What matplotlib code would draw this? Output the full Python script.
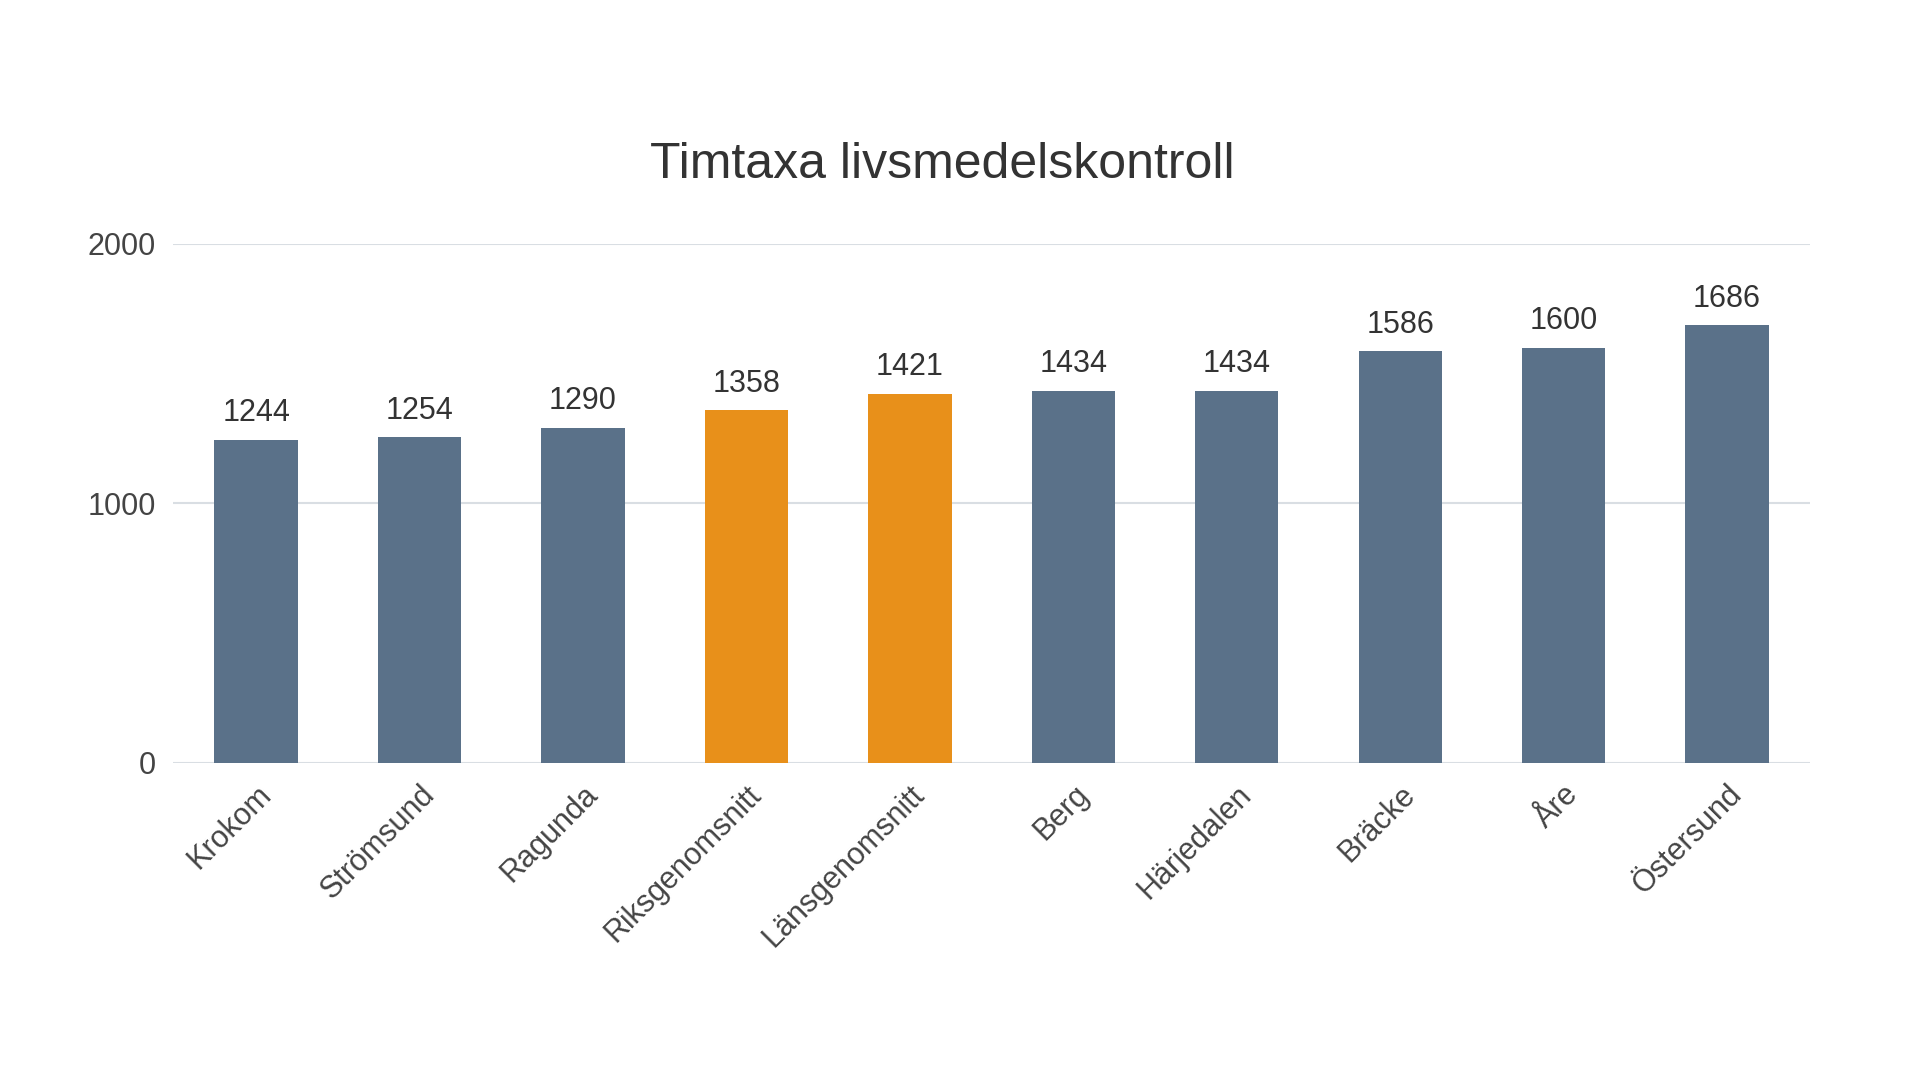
import matplotlib
matplotlib.use("Agg")
import matplotlib.pyplot as plt

categories = ["Krokom", "Strömsund", "Ragunda", "Riksgenomsnitt", "Länsgenomsnitt",
              "Berg", "Härjedalen", "Bräcke", "Åre", "Östersund"]
values = [1244, 1254, 1290, 1358, 1421, 1434, 1434, 1586, 1600, 1686]
highlight = ["Riksgenomsnitt", "Länsgenomsnitt"]
yticks = [0, 1000, 2000]

plt.rcParams['font.family'] = ['Liberation Sans', 'DejaVu Sans']
fig = plt.figure(figsize=(19.2, 10.79), dpi=100)
ax = fig.add_axes([0.09, 0.293, 0.8525, 0.481])
colors = ["#E8901A" if c in highlight else "#5A7189" for c in categories]
x = range(len(categories))
ax.bar(x, values, width=0.51, color=colors, zorder=3)
for xi, v in zip(x, values):
    ax.text(xi, v + 45, str(v), ha="center", va="bottom", fontsize=22, color="#333333")
ax.set_xlim(-0.51, len(categories) - 0.495)
ax.set_ylim(0, 2000)
ax.set_yticks(yticks)
ax.set_yticklabels([str(t) for t in yticks], fontsize=22, color="#444444")
ax.grid(axis="y", color="#D9DEE3", linewidth=1.5, zorder=0)
ax.set_xticks(list(x))
ax.set_xticklabels(categories, rotation=45, ha="right", rotation_mode="anchor",
                   fontsize=22, color="#444444")
for s in ax.spines.values():
    s.set_visible(False)
ax.tick_params(length=0, pad=12)
fig.text(0.491, 0.847, "Timtaxa livsmedelskontroll", ha="center", va="center",
         fontsize=36, color="#333333")
fig.savefig("out.png", dpi=100, facecolor="white")
